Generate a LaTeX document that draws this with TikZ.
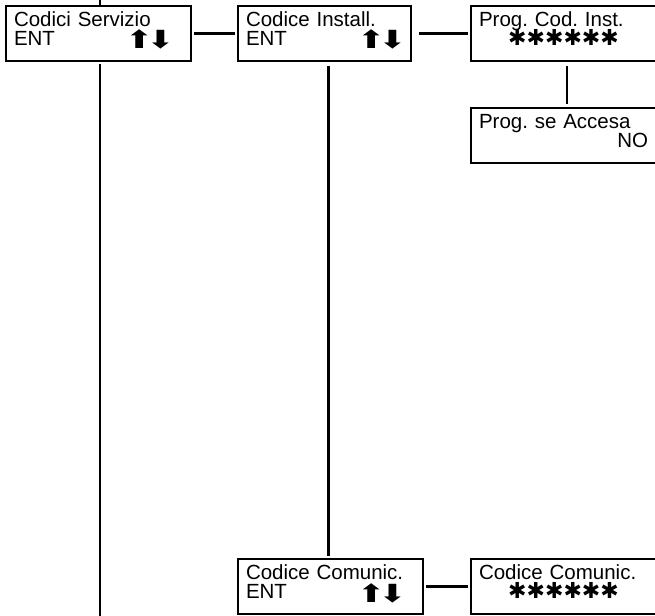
\documentclass[tikz,border=0pt]{standalone}
\usepackage{fontspec}
\setmainfont{Liberation Sans}
\newfontfamily\symfont{DejaVu Sans}
\usetikzlibrary{positioning}

\newcommand{\updown}{{\symfont\fontsize{25}{19}\selectfont
  \raisebox{-3.5pt}{\scalebox{1.35}[1]{⬆}\kern-7pt\scalebox{1.35}[1]{⬇}}}}
\newcommand{\stars}{{\symfont\fontsize{22}{19}\selectfont ✱✱✱✱✱✱}}
\newcommand{\entline}{\makebox[111pt][l]{ENT}\updown}

\begin{document}
\frenchspacing
\begin{tikzpicture}[
      x=1pt, y=1pt,
      font={\fontsize{20.5}{19}\selectfont\lineskiplimit=-100pt},
      panel/.style={draw, line width=2.2pt, rectangle, outer sep=0pt,
                    inner xsep=8pt, inner ysep=5.5pt, text width=169pt,
                    text height=15pt, text depth=29pt, align=left},
      link/.style={line width=2.2pt, shorten <=3pt, shorten >=3pt}
    ]
    \clip (0,0) rectangle (655,-615);

    \node[panel, anchor=north west] (serv) at (6,-6) {Codici Servizio\\\entline};
    \node[panel, text width=157pt, right=47pt of serv] (inst) {Codice Install.\\\entline};
    \node[panel, right=60pt of inst] (prog) {Prog. Cod. Inst.\\\makebox[\linewidth]{\stars}};
    \node[panel, below=47pt of prog] (accesa) {Prog. se Accesa\\\hbox to\linewidth{\hfil NO}};

    \node[panel, below=498pt of inst.south west, anchor=north west] (comunic) {Codice Comunic.\\\entline};
    \node[panel, right=48pt of comunic] (code) {Codice Comunic.\\\makebox[\linewidth]{\stars}};

    \path (serv.north) ++(1.5,10) coordinate (entry);
    \path (serv.south |- comunic.south) ++(1.5,-10) coordinate (exit);

    \draw[link, shorten <=0pt, shorten >=0pt] ([xshift=1.5pt]serv.north) -- (entry);
    \draw[link, shorten >=0pt] ([xshift=1.5pt]serv.south) -- (exit);
    \draw[link] (serv) -- (inst);
    \draw[link, shorten <=8pt] (inst) -- (prog);
    \draw[link, shorten <=5pt, shorten >=4pt] ([xshift=3.5pt]prog.south) -- ([xshift=3.5pt]accesa.north);
    \draw[link, shorten <=5pt] ([xshift=4pt]inst.south) -- ([xshift=4pt]inst.south |- comunic.north);
    \draw[link] (comunic) -- (code);
  \end{tikzpicture}
\end{document}
